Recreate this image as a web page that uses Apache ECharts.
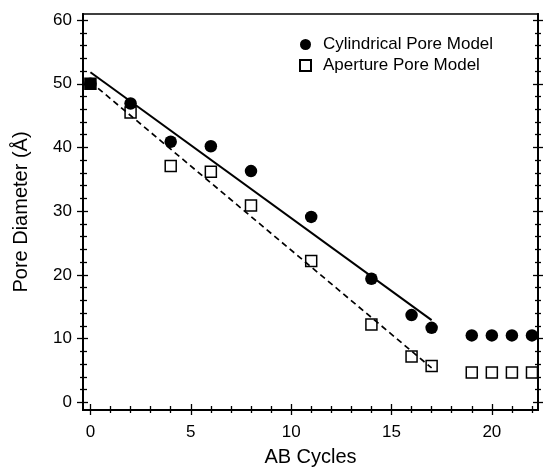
<!DOCTYPE html>
<html>
<head>
<meta charset="utf-8">
<script src="https://cdn.jsdelivr.net/npm/echarts@6/dist/echarts.min.js"></script>
<style>html,body{margin:0;padding:0;background:#fff;}#c{width:543px;height:472px;}</style>
</head>
<body>
<div id="c"></div>
<script>
// ---- data ----
const cycles = [0, 2, 4, 6, 8, 11, 14, 16, 17, 19, 20, 21, 22];
const cylindrical = [50, 46.9, 40.9, 40.2, 36.3, 29.1, 19.4, 13.7, 11.7, 10.5, 10.5, 10.5, 10.5];
const aperture = [50, 45.5, 37.1, 36.2, 30.9, 22.2, 12.2, 7.2, 5.7, 4.7, 4.7, 4.7, 4.7];
const fitX = [0, 17];
const cylindricalFit = [51.8, 12.9];
const apertureFit = [50.3, 5.4];
const xMajorTicks = [0, 5, 10, 15, 20];
const xMinorTicks = [1, 2, 3, 4, 6, 7, 8, 9, 11, 12, 13, 14, 16, 17, 18, 19, 21, 22];
const yMajorTicks = [0, 10, 20, 30, 40, 50, 60];
const yMinorTicks = [2, 4, 6, 8, 12, 14, 16, 18, 22, 24, 26, 28, 32, 34, 36, 38, 42, 44, 46, 48, 52, 54, 56, 58];
const seriesNames = ['Cylindrical Pore Model', 'Aperture Pore Model'];
const xTitle = 'AB Cycles';
const yTitle = 'Pore Diameter (Å)';

// ---- layout / style ----
const X_MIN = -0.37, X_MAX = 22.3, Y_MIN = -1.2, Y_MAX = 60.95;
const FONT = '"Liberation Sans", Arial, Helvetica, sans-serif';
const LINE = { show: true, onZero: false, lineStyle: { color: '#000', width: 1.6 } };

function makeAxis(kind, position, ticks, len, inside, extra) {
  const a = {
    type: 'value', position: position,
    min: kind === 'x' ? X_MIN : Y_MIN,
    max: kind === 'x' ? X_MAX : Y_MAX,
    axisLine: LINE,
    splitLine: { show: false },
    axisLabel: { show: false },
    axisTick: ticks ? { show: true, inside: inside, length: len, customValues: ticks,
      lineStyle: { color: '#000', width: 1.3 } } : { show: false }
  };
  return Object.assign(a, extra || {});
}

const labelStyle = { show: true, color: '#000', fontSize: 17, fontFamily: FONT };

const xAxes = [
  makeAxis('x', 'bottom', xMajorTicks, 5, false, {
    axisLabel: Object.assign({ customValues: xMajorTicks, margin: 14 }, labelStyle),
    name: xTitle, nameLocation: 'middle', nameGap: 37,
    nameTextStyle: { color: '#000', fontSize: 20, fontFamily: FONT }
  }),
  makeAxis('x', 'bottom', xMajorTicks, 6, true),
  makeAxis('x', 'bottom', xMinorTicks, 3, false),
  makeAxis('x', 'bottom', xMinorTicks, 4, true),
  makeAxis('x', 'top', null, 0, false)
];
const yAxes = [
  makeAxis('y', 'left', yMajorTicks, 6, false, {
    axisLabel: Object.assign({ customValues: yMajorTicks, margin: 11 }, labelStyle),
    name: yTitle, nameLocation: 'middle', nameGap: 52,
    nameTextStyle: { color: '#000', fontSize: 20, fontFamily: FONT }
  }),
  makeAxis('y', 'left', yMajorTicks, 5, true),
  makeAxis('y', 'left', yMinorTicks, 3, false),
  makeAxis('y', 'left', yMinorTicks, 4, true),
  makeAxis('y', 'right', yMajorTicks, 5, false),
  makeAxis('y', 'right', yMajorTicks, 5, true),
  makeAxis('y', 'right', yMinorTicks, 3, false),
  makeAxis('y', 'right', yMinorTicks, 3, true)
];

const zip = (xs, ys) => xs.map((x, i) => [x, ys[i]]);

const option = {
  backgroundColor: '#fff',
  animation: false,
  grid: { left: 83, right: 5, top: 14, bottom: 56, containLabel: false },
  xAxis: xAxes,
  yAxis: yAxes,
  legend: {
    data: seriesNames,
    orient: 'vertical',
    left: 294, top: 31,
    itemWidth: 11, itemHeight: 11, itemGap: 4,
    textStyle: { color: '#000', fontSize: 17, fontFamily: FONT, padding: [0, 0, 0, 7] }
  },
  series: [
    {
      name: seriesNames[1], type: 'scatter', symbol: 'rect', symbolSize: 11, z: 2,
      itemStyle: { color: '#fff', borderColor: '#000', borderWidth: 1.5, opacity: 1 },
      data: zip(cycles, aperture).map((d, i) => i === 0 ? { value: d, itemStyle: { color: '#000' } } : d)
    },
    {
      name: seriesNames[0], type: 'scatter', symbol: 'circle', symbolSize: 12.5, z: 3,
      itemStyle: { color: '#000', opacity: 1 },
      data: zip(cycles, cylindrical)
    },
    {
      name: 'cylFit', type: 'line', symbol: 'none', z: 4, silent: true,
      lineStyle: { color: '#000', width: 2, type: 'solid' },
      data: zip(fitX, cylindricalFit)
    },
    {
      name: 'apFit', type: 'line', symbol: 'none', z: 4, silent: true,
      lineStyle: { color: '#000', width: 1.7, type: [6, 4] },
      data: zip(fitX, apertureFit)
    }
  ]
};

const chart = echarts.init(document.getElementById('c'), null, { renderer: 'canvas' });
chart.setOption(option);
</script>
</body>
</html>
